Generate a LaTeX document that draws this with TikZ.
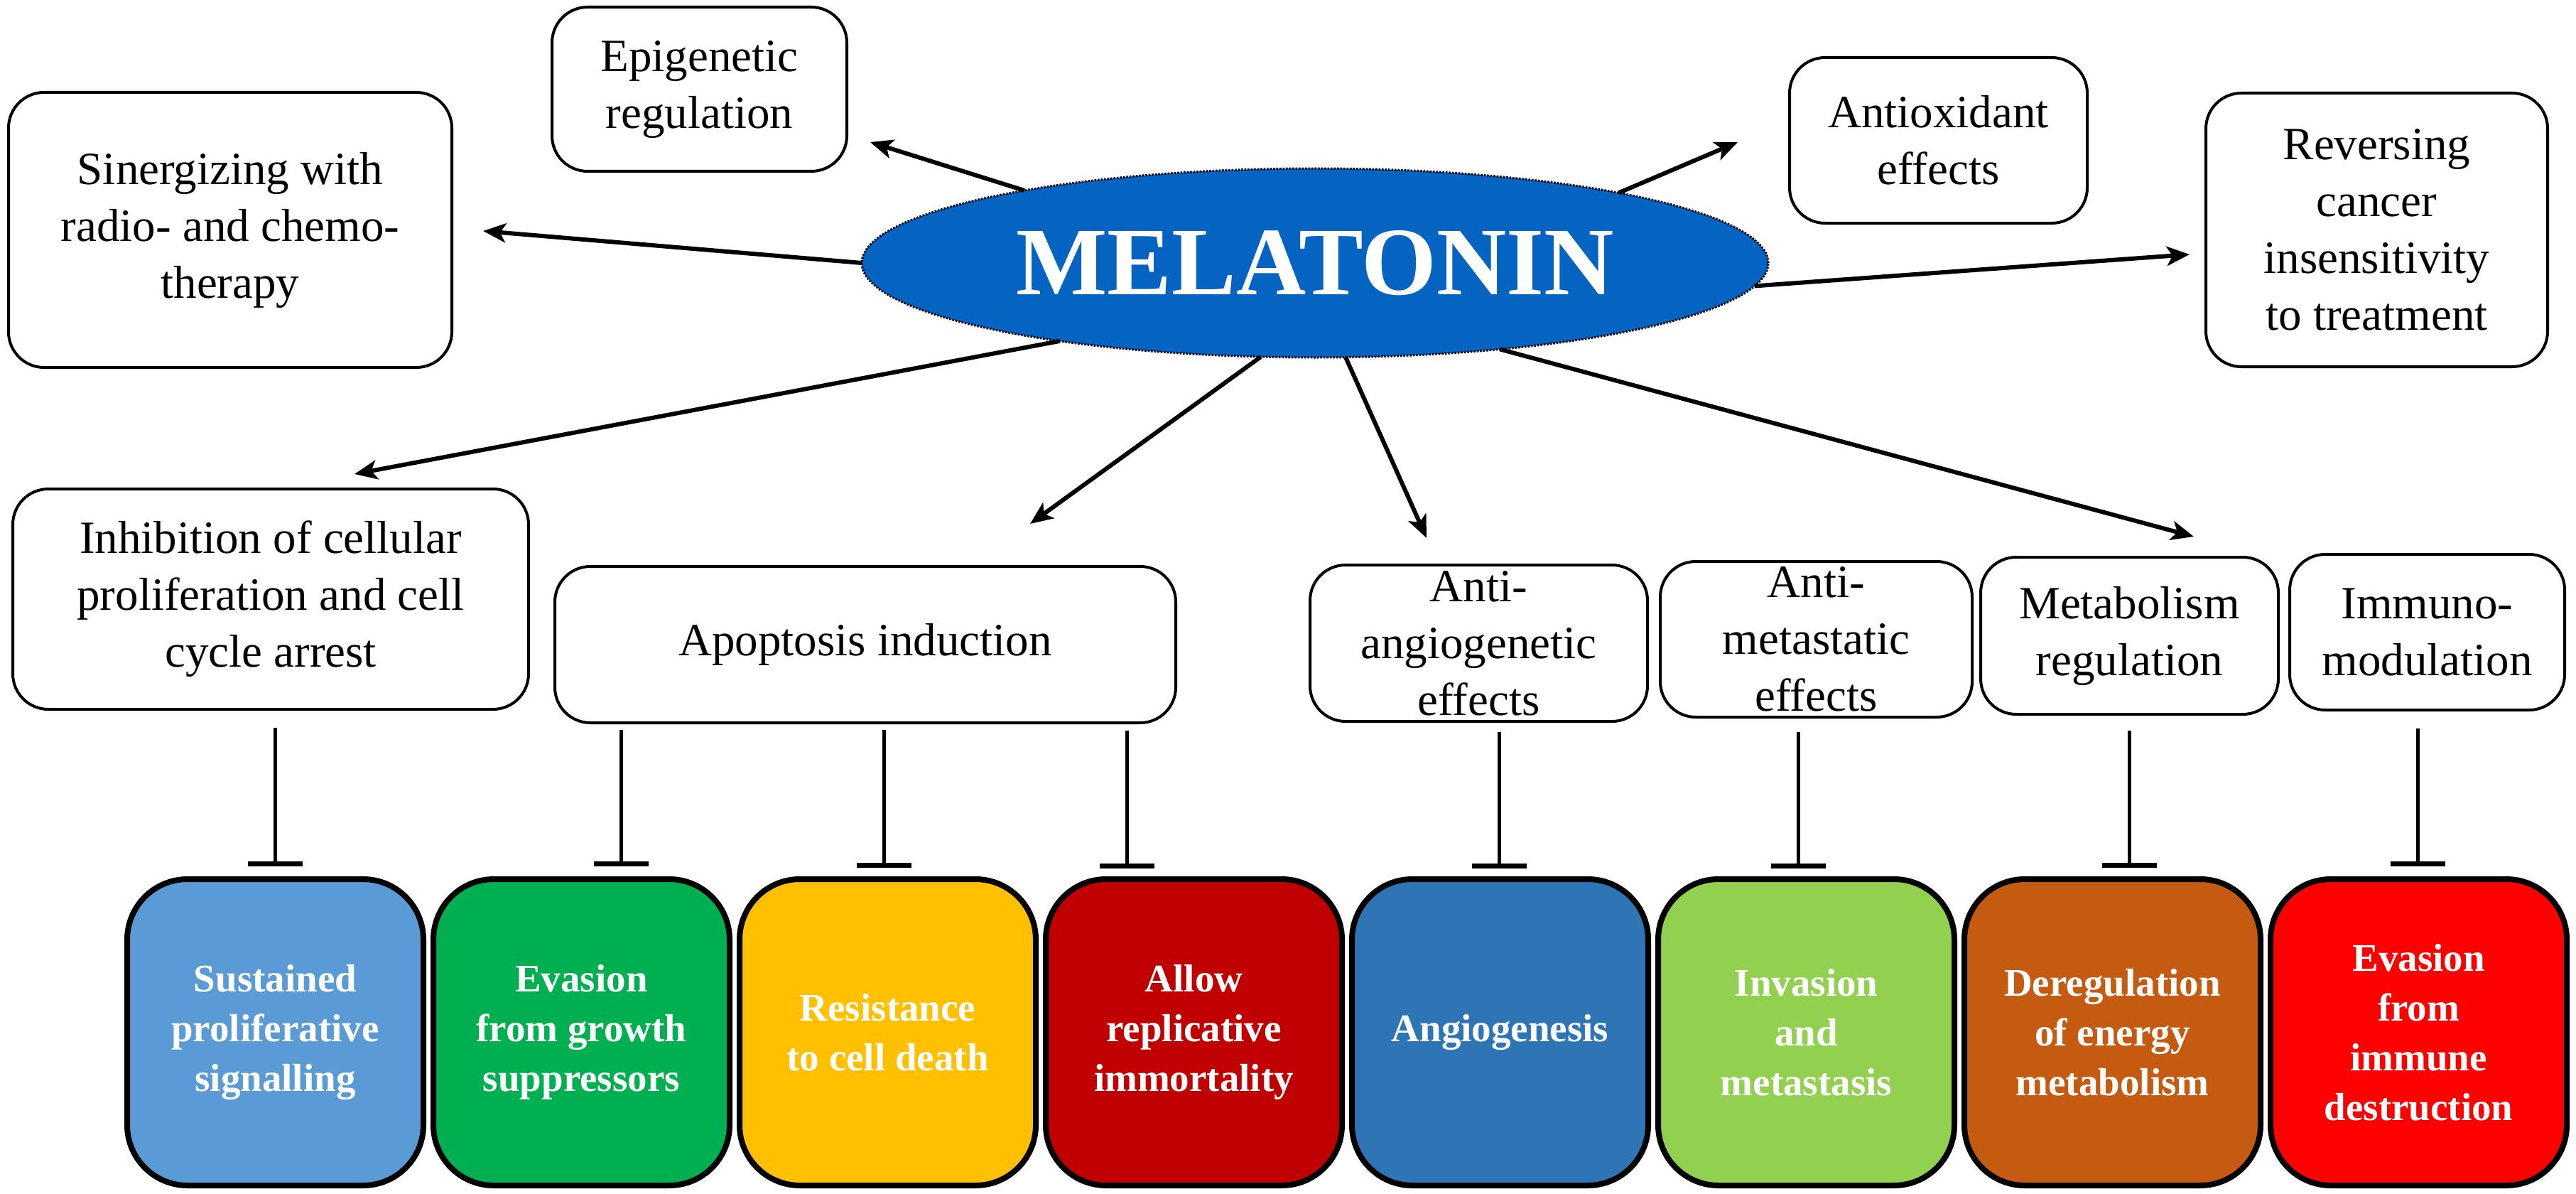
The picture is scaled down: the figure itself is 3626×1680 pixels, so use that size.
\documentclass[tikz,border=0pt]{standalone}
\usepackage{fontspec}
\setmainfont{Liberation Serif}
\usetikzlibrary{arrows.meta,shapes.geometric,calc}
\definecolor{melblue}{HTML}{0563C1}
\definecolor{cA}{HTML}{5B9BD5}
\definecolor{cB}{HTML}{00B050}
\definecolor{cC}{HTML}{FFC000}
\definecolor{cD}{HTML}{C00000}
\definecolor{cE}{HTML}{2E75B6}
\definecolor{cF}{HTML}{92D050}
\definecolor{cG}{HTML}{C55A11}
\definecolor{cH}{HTML}{FF0000}
\begin{document}
\begin{tikzpicture}[x=1pt,y=-1pt,
  wbox/.style={draw=black, line width=4pt, rounded corners=50pt, fill=white, align=center,
    inner sep=0pt, outer sep=0pt, font=\fontsize{65}{80}\selectfont},
  cbox/.style={draw=black, line width=8pt, rounded corners=85pt, minimum width=417pt,
    minimum height=431pt, inner sep=0pt, outer sep=0pt, align=center, text=white,
    font=\fontsize{55}{70}\selectfont\bfseries},
  arr/.style={line width=6pt, -{Stealth[length=32pt,width=27pt,inset=8pt]}},
  inhib/.style={line width=5pt, -{Bar[width=77pt,line width=7pt]}}
]
\useasboundingbox (0,0) rectangle (3626,1680);

% central ellipse
\node[ellipse, draw=black, line width=3pt, dash pattern=on 2.5pt off 2pt, fill=melblue,
  minimum width=1276pt, minimum height=266pt, inner sep=0pt, outer sep=0pt, text=white,
  font=\fontsize{136}{136}\selectfont\bfseries] (mel) at (1851,370) {MELATONIN};

% top boxes
\node[wbox, minimum width=624pt, minimum height=387pt] (sin) at (324,323.5) {Sinergizing with\\radio- and chemo-\\therapy};
\node[wbox, minimum width=415pt, minimum height=231pt] (epi) at (984.5,125.5) {Epigenetic\\regulation};
\node[wbox, minimum width=419pt, minimum height=233pt] (antiox) at (2728.5,197.5) {Antioxidant\\effects};
\node[wbox, minimum width=481pt, minimum height=385pt] (rev) at (3345.5,323.5) {Reversing\\cancer\\insensitivity\\to treatment};

% middle boxes
\node[wbox, minimum width=726pt, minimum height=310pt] (inh) at (381,843) {Inhibition of cellular\\proliferation and cell\\cycle arrest};
\node[wbox, minimum width=874pt, minimum height=220pt] (apo) at (1218,907) {Apoptosis induction};
\node[wbox, minimum width=475pt, minimum height=220pt] (ang) at (2081.5,905) {Anti-\\angiogenetic\\effects};
\node[wbox, minimum width=439pt, minimum height=219pt] (met) at (2556.5,899.5) {Anti-\\metastatic\\effects};
\node[wbox, minimum width=419pt, minimum height=221pt] (mr) at (2997.5,894.5) {Metabolism\\regulation};
\node[wbox, minimum width=387pt, minimum height=219pt] (imm) at (3416.5,889.5) {Immuno-\\modulation};

% hallmark boxes
\node[cbox, fill=cA] (c1) at (387.5,1452.5) {Sustained\\proliferative\\signalling};
\node[cbox, fill=cB] (c2) at (818.5,1452.5) {Evasion\\from growth\\suppressors};
\node[cbox, fill=cC] (c3) at (1249.5,1452.5) {Resistance\\to cell death};
\node[cbox, fill=cD] (c4) at (1680.5,1452.5) {Allow\\replicative\\immortality};
\node[cbox, fill=cE] (c5) at (2111.5,1452.5) {Angiogenesis};
\node[cbox, fill=cF] (c6) at (2542.5,1452.5) {Invasion\\and\\metastasis};
\node[cbox, fill=cG] (c7) at (2973.5,1452.5) {Deregulation\\of energy\\metabolism};
\node[cbox, fill=cH] (c8) at (3404.5,1452.5) {Evasion\\from\\immune\\destruction};

% arrow tips (free ends)
\coordinate (tsin) at (680,325);
\coordinate (tepi) at (1225,200);
\coordinate (tantiox) at (2446,200);
\coordinate (trev) at (3082,358);
\coordinate (tinh) at (499,667);
\coordinate (tapo) at (1450,737);
\coordinate (tang) at (2008,757);
\coordinate (tmr) at (3088,755);

\draw[arr] (mel.180) -- (tsin);
\draw[arr] (mel.166.9) -- (tepi);
\draw[arr] (mel.13.8) -- (tantiox);
\draw[arr] (mel.357.8) -- (trev);
\draw[arr] (mel.197.1) -- (tinh);
\draw[arr] (mel.240.3) -- (tapo);
\draw[arr] (mel.288.6) -- (tang);
\draw[arr] (mel.335.3) -- (tmr);

% inhibition connectors
\coordinate (x1) at (387,0);
\coordinate (x2) at (874,0);
\coordinate (x3) at (1244,0);
\coordinate (x4) at (1586,0);
\coordinate (x5) at (2110,0);
\coordinate (x6) at (2531,0);
\coordinate (x7) at (2997,0);
\coordinate (x8) at (3403,0);
\draw[inhib] ($(inh.south -| x1)+(0,26)$) -- ($(c1.north -| x1)+(0,-18)$);
\draw[inhib] ($(apo.south -| x2)+(0,10)$) -- ($(c2.north -| x2)+(0,-18)$);
\draw[inhib] ($(apo.south -| x3)+(0,10)$) -- ($(c3.north -| x3)+(0,-16)$);
\draw[inhib] ($(apo.south -| x4)+(0,11)$) -- ($(c4.north -| x4)+(0,-15)$);
\draw[inhib] ($(ang.south -| x5)+(0,15)$) -- ($(c5.north -| x5)+(0,-15)$);
\draw[inhib] ($(met.south -| x6)+(0,21)$) -- ($(c6.north -| x6)+(0,-15)$);
\draw[inhib] ($(mr.south -| x7)+(0,23)$) -- ($(c7.north -| x7)+(0,-16)$);
\draw[inhib] ($(imm.south -| x8)+(0,26)$) -- ($(c8.north -| x8)+(0,-18)$);
\end{tikzpicture}
\end{document}
